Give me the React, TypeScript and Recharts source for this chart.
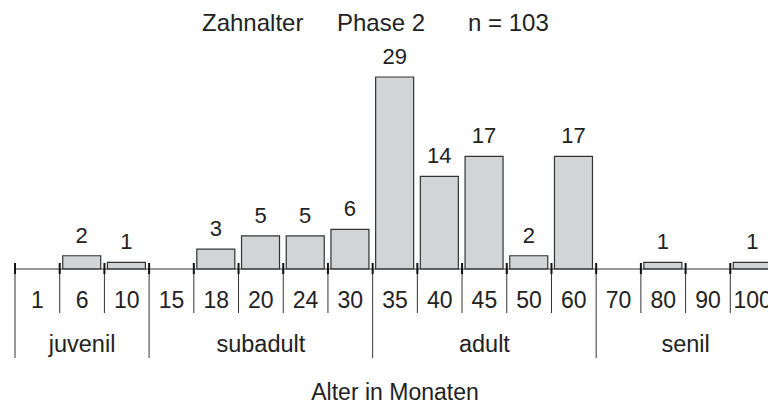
import React from "react";
import { BarChart, Bar, XAxis, YAxis, LabelList } from "recharts";

const ages = ["1", "6", "10", "15", "18", "20", "24", "30", "35", "40", "45", "50", "60", "70", "80", "90", "100"];
const counts = [0, 2, 1, 0, 3, 5, 5, 6, 29, 14, 17, 2, 17, 0, 1, 0, 1];
const groupNames = ["juvenil", "subadult", "adult", "senil"];
const groupSizes = [3, 5, 5, 4];

const data = ages.map((age, i) => ({ age, count: counts[i] }));

const CHART_W = 800;
const CHART_H = 407;
const MARGIN = { top: 77, right: 25, bottom: 98, left: 15 };
const BAND = (CHART_W - MARGIN.left - MARGIN.right) / ages.length;
const FONT = "'Liberation Sans', Arial, sans-serif";
const INK = "#222";
const LINE = "#333";

// index of first category in each group
const groupStarts: number[] = [];
groupSizes.reduce((acc, n) => {
  groupStarts.push(acc);
  return acc + n;
}, 0);

function AgeTick(props: any) {
  const { x, y, payload } = props;
  const i = payload.index ?? props.index;
  const left = x - BAND / 2;
  const g = groupStarts.indexOf(i);
  const isLast = i === ages.length - 1;

  const boundary = (bx: number, long: boolean) => (
    <g>
      <line x1={bx} x2={bx} y1={y} y2={long ? y + 89 : y + 44} stroke={LINE} strokeWidth={1} />
      <line x1={bx} x2={bx} y1={y - 6} y2={y + 5} stroke="#111" strokeWidth={2} />
    </g>
  );

  return (
    <g>
      {boundary(left, g >= 0)}
      {isLast && boundary(left + BAND, true)}
      <text x={x} y={y + 39} textAnchor="middle" fontSize={23} fill={INK} fontFamily={FONT}>
        {payload.value}
      </text>
      {g >= 0 && (
        <text
          x={left + (groupSizes[g] * BAND) / 2}
          y={y + 83}
          textAnchor="middle"
          fontSize={23.5}
          fill={INK}
          fontFamily={FONT}
        >
          {groupNames[g]}
        </text>
      )}
    </g>
  );
}

function CountLabel(props: any) {
  const { x, y, width, value } = props;
  if (!value) return null;
  return (
    <text x={x + width / 2} y={y - 13} textAnchor="middle" fontSize={22} fill={INK} fontFamily={FONT}>
      {value}
    </text>
  );
}

export default function App() {
  return (
    <div
      style={{
        position: "fixed",
        left: 0,
        top: 0,
        width: 768,
        height: 407,
        overflow: "hidden",
        background: "#fff",
      }}
    >
      <BarChart width={CHART_W} height={CHART_H} data={data} margin={MARGIN}>
        <YAxis hide domain={[0, 29]} />
        <XAxis
          dataKey="age"
          interval={0}
          height={40}
          tickSize={0}
          tickMargin={0}
          tickLine={false}
          axisLine={{ stroke: LINE, strokeWidth: 1.2 }}
          tick={<AgeTick />}
        />
        <Bar
          dataKey="count"
          barSize={38}
          fill="#d3d4d6"
          stroke={LINE}
          strokeWidth={1.2}
          isAnimationActive={false}
        >
          <LabelList dataKey="count" content={<CountLabel />} />
        </Bar>
      </BarChart>
      <svg
        width={768}
        height={407}
        style={{ position: "absolute", left: 0, top: 0, pointerEvents: "none" }}
      >
        <g fontFamily={FONT} fill={INK}>
          <text x={202} y={31} fontSize={24}>Zahnalter</text>
          <text x={337} y={31} fontSize={24}>Phase 2</text>
          <text x={468} y={31} fontSize={24}>n = 103</text>
          <text x={395} y={400} textAnchor="middle" fontSize={23}>Alter in Monaten</text>
        </g>
      </svg>
    </div>
  );
}
